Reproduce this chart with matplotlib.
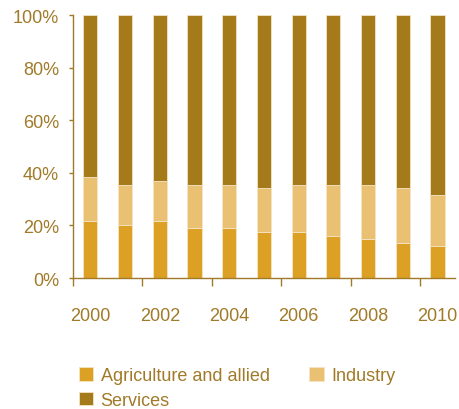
import matplotlib.pyplot as plt
import numpy as np

# data
years = [2000, 2001, 2002, 2003, 2004, 2005, 2006, 2007, 2008, 2009, 2010]
agri = [21.8, 20.2, 21.8, 19.0, 19.0, 17.6, 17.6, 16.1, 15.0, 13.4, 12.2]
agri_ind_top = [38.3, 35.5, 36.9, 35.5, 35.5, 34.3, 35.5, 35.5, 35.5, 34.3, 31.5]
industry = [t - a for t, a in zip(agri_ind_top, agri)]
services = [100 - t for t in agri_ind_top]
tick_years = ['2000', '2002', '2004', '2006', '2008', '2010']

# colours
C_AGRI = '#DCA024'
C_IND = '#EAC173'
C_SERV = '#A47A1A'
C_TEXT = '#A07A28'
C_EDGE = '#F4E4C4'

plt.rcParams['font.family'] = ['Liberation Sans', 'DejaVu Sans']

fig = plt.figure(figsize=(4.59, 4.10), dpi=100)
ax = fig.add_axes([0.159, 0.3195, 0.832, 0.6405])

x = np.arange(len(years))
w = 0.41
b1 = ax.bar(x, agri, w, color=C_AGRI, edgecolor=C_EDGE, linewidth=0.6,
            label='Agriculture and allied')
b2 = ax.bar(x, industry, w, bottom=agri, color=C_IND, edgecolor=C_EDGE,
            linewidth=0.6, label='Industry')
b3 = ax.bar(x, services, w, bottom=agri_ind_top, color=C_SERV,
            edgecolor=C_EDGE, linewidth=0.6, label='Services')

ax.set_xlim(-0.5, 10.5)
ax.set_ylim(0, 100)

ax.set_yticks(range(0, 101, 20))
ax.set_yticklabels([f'{v}%' for v in range(0, 101, 20)])

ax.set_xticks(x[::2])
ax.set_xticklabels(tick_years)
ax.set_xticks(x[::2] - 0.5, minor=True)
ax.tick_params(axis='x', which='major', length=0, pad=21, labelsize=13,
               labelcolor=C_TEXT)
ax.tick_params(axis='x', which='minor', length=5.8, width=1, color=C_TEXT,
               direction='out')
ax.tick_params(axis='y', length=3, width=1, color=C_TEXT, pad=7,
               labelsize=13, labelcolor=C_TEXT)

for s in ['top', 'right']:
    ax.spines[s].set_visible(False)
for s in ['left', 'bottom']:
    ax.spines[s].set_color(C_TEXT)
    ax.spines[s].set_linewidth(1)

# legend: order so that Agri/Services share the first column
leg = fig.legend([b1, b3, b2],
                 ['Agriculture and allied', 'Services', 'Industry'],
                 ncol=2, loc='upper left', bbox_to_anchor=(0.172, 0.102),
                 frameon=False, fontsize=13, handlelength=0.8,
                 handleheight=0.8, handletextpad=0.4, columnspacing=2.2,
                 labelspacing=0.4, borderpad=0, borderaxespad=0)
for t in leg.get_texts():
    t.set_color(C_TEXT)

fig.savefig('out.png', dpi=100)
